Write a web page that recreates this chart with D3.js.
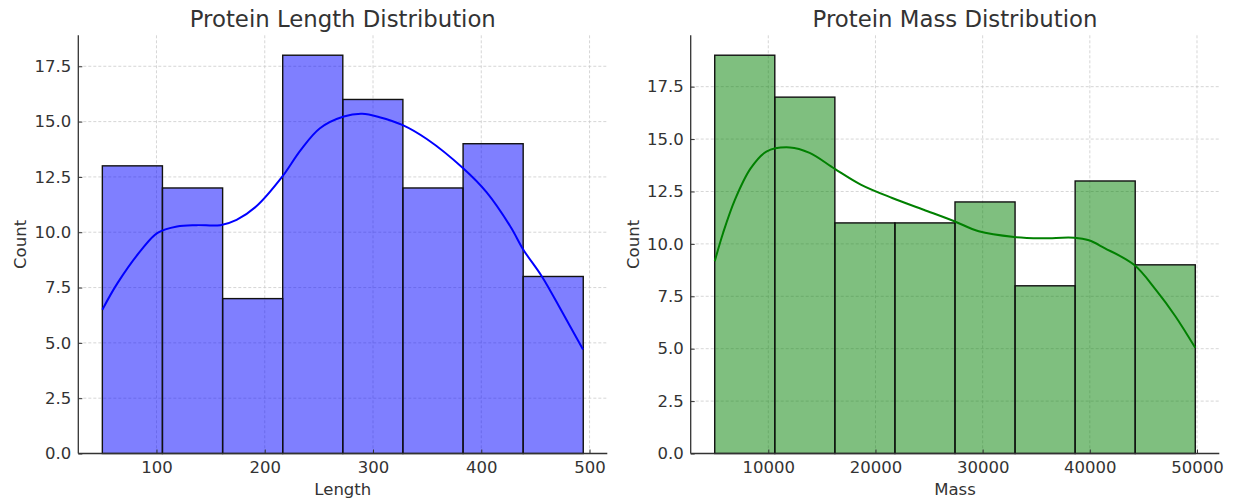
<!DOCTYPE html>
<html>
<head>
<meta charset="utf-8">
<script src="https://cdn.jsdelivr.net/npm/d3@7"></script>
<style>
    body { margin: 0; background: #fff; }
    svg { display: block; font-family: "DejaVu Sans", sans-serif; }
</style>
</head>
<body>
<svg id="chart" width="1234" height="499"></svg>
<script>
// histogram bins (edges) and counts
const lengthEdges = [50, 105.5, 161.1, 216.6, 272.1, 327.6, 383.2, 438.7, 494.2];
const lengthCounts = [13, 12, 7, 18, 16, 12, 14, 8];
const massEdges = [5000, 10605, 16210, 21815, 27420, 33025, 38630, 44235, 49840];
const massCounts = [19, 17, 11, 11, 12, 8, 13, 9];

// kde curves, in count units
const lengthKdeX = [50, 64, 86, 101, 119, 137, 159, 174, 192, 216, 233, 251, 273, 290, 306, 327, 350, 383, 405, 427, 439, 456, 475, 494];
const lengthKdeY = [6.5, 7.7, 9.2, 9.97, 10.26, 10.32, 10.32, 10.56, 11.16, 12.5, 13.7, 14.7, 15.23, 15.35, 15.2, 14.85, 14.2, 12.9, 11.8, 10.25, 9.2, 8.0, 6.37, 4.7];
const massKdeX = [5000, 5780, 6881, 8349, 9817, 12018, 13853, 16202, 18624, 21560, 24495, 27358, 29633, 32936, 35505, 38550, 39908, 41376, 44128, 46147, 47982, 49840];
const massKdeY = [9.17, 10.52, 12.1, 13.6, 14.4, 14.6, 14.34, 13.58, 12.83, 12.19, 11.63, 11.08, 10.6, 10.33, 10.27, 10.29, 10.17, 9.8, 9.0, 7.82, 6.55, 5.04];

const lengthTicks = [100, 200, 300, 400, 500];
const massTicks = [10000, 20000, 30000, 40000, 50000];
const countTicks = [0, 2.5, 5, 7.5, 10, 12.5, 15, 17.5];

const svg = d3.select('#chart');
const textColor = '#333';

function drawPanel({ left, right, top, bottom, edges, counts, kdeX, kdeY, xTicks, title, xLabel, color }) {
    let g = svg.append('g');

    let pad = (edges[edges.length - 1] - edges[0]) * 0.05;
    let xScale = d3.scaleLinear()
        .domain([edges[0] - pad, edges[edges.length - 1] + pad])
        .range([left, right]);
    let yScale = d3.scaleLinear()
        .domain([0, d3.max(counts) * 1.05])
        .range([bottom, top]);

    // grid
    g.append('g')
        .selectAll('line')
        .data(xTicks)
        .join('line')
        .attr('x1', d => xScale(d))
        .attr('x2', d => xScale(d))
        .attr('y1', top)
        .attr('y2', bottom)
        .style('stroke', '#cccccc')
        .style('stroke-width', 0.8)
        .style('stroke-dasharray', '3,2');
    g.append('g')
        .selectAll('line')
        .data(countTicks)
        .join('line')
        .attr('x1', left)
        .attr('x2', right)
        .attr('y1', d => yScale(d))
        .attr('y2', d => yScale(d))
        .style('stroke', '#cccccc')
        .style('stroke-width', 0.8)
        .style('stroke-dasharray', '3,2');

    // bars
    g.append('g')
        .selectAll('rect')
        .data(counts)
        .join('rect')
        .attr('x', (d, i) => xScale(edges[i]))
        .attr('width', (d, i) => xScale(edges[i + 1]) - xScale(edges[i]))
        .attr('y', d => yScale(d))
        .attr('height', d => yScale(0) - yScale(d))
        .style('fill', color)
        .style('fill-opacity', 0.5)
        .style('stroke', '#111')
        .style('stroke-width', 1.4);

    // kde
    let line = d3.line()
        .x((d, i) => xScale(kdeX[i]))
        .y(d => yScale(d))
        .curve(d3.curveCatmullRom.alpha(0.5));
    g.append('path')
        .datum(kdeY)
        .attr('d', line)
        .style('fill', 'none')
        .style('stroke', color)
        .style('stroke-width', 2);

    // axes
    let xAxis = d3.axisBottom(xScale).tickValues(xTicks).tickSize(-4).tickPadding(8).tickFormat(d3.format('d'));
    let yAxis = d3.axisLeft(yScale).tickValues(countTicks).tickSize(-4).tickPadding(7).tickFormat(d3.format('.1f'));

    let gx = g.append('g').attr('transform', `translate(0, ${bottom})`).call(xAxis);
    gx.select('.domain').attr('d', `M${left},0H${right}`);
    let gy = g.append('g').attr('transform', `translate(${left}, 0)`).call(yAxis);
    gy.select('.domain').attr('d', `M0,${bottom}V${top}`);

    [gx, gy].forEach(a => {
        a.select('.domain').style('stroke', textColor).style('stroke-width', 1.3);
        a.selectAll('.tick line').style('stroke', textColor).style('stroke-width', 1);
        a.selectAll('.tick text')
            .style('fill', textColor)
            .style('font-size', '16.5px')
            .style('font-family', '"DejaVu Sans", sans-serif');
    });

    g.append('text')
        .attr('x', (left + right) / 2)
        .attr('y', 27.3)
        .attr('text-anchor', 'middle')
        .style('font-size', '22.8px')
        .style('fill', textColor)
        .text(title);

    g.append('text')
        .attr('x', (left + right) / 2)
        .attr('y', 494.5)
        .attr('text-anchor', 'middle')
        .style('font-size', '16.5px')
        .style('fill', textColor)
        .text(xLabel);

    g.append('text')
        .attr('transform', `translate(${left - 52}, ${(top + bottom) / 2}) rotate(-90)`)
        .attr('text-anchor', 'middle')
        .style('font-size', '16.5px')
        .style('fill', textColor)
        .text('Count');
}

drawPanel({
    left: 78.3, right: 607.3, top: 35.3, bottom: 453.5,
    edges: lengthEdges, counts: lengthCounts,
    kdeX: lengthKdeX, kdeY: lengthKdeY,
    xTicks: lengthTicks,
    title: 'Protein Length Distribution', xLabel: 'Length',
    color: '#0000ff'
});

drawPanel({
    left: 690.7, right: 1219.3, top: 35.3, bottom: 453.5,
    edges: massEdges, counts: massCounts,
    kdeX: massKdeX, kdeY: massKdeY,
    xTicks: massTicks,
    title: 'Protein Mass Distribution', xLabel: 'Mass',
    color: '#008000'
});
</script>
</body>
</html>
